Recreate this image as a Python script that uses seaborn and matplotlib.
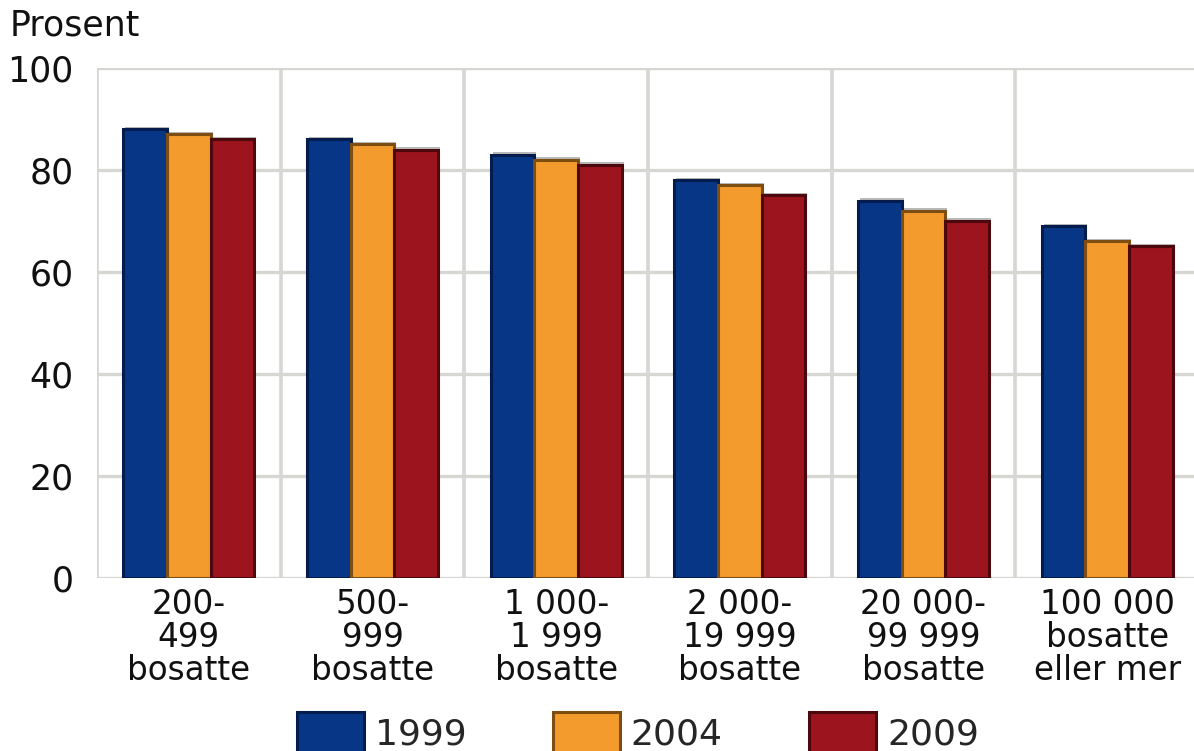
import matplotlib
matplotlib.use("Agg")
import matplotlib.pyplot as plt
import matplotlib.patheffects as pe
from matplotlib.patches import Patch
import numpy as np
import pandas as pd
import seaborn as sns

categories = ["200-\n499\nbosatte", "500-\n999\nbosatte", "1 000-\n1 999\nbosatte",
              "2 000-\n19 999\nbosatte", "20 000-\n99 999\nbosatte", "100 000\nbosatte\neller mer"]
years = ["1999", "2004", "2009"]
values_1999 = [88, 86, 83, 78, 74, 69]
values_2004 = [87, 85, 82, 77, 72, 66]
values_2009 = [86, 84, 81, 75, 70, 65]
yticks = [0, 20, 40, 60, 80, 100]

face_colors = ["#073686", "#f39c2d", "#9c141d"]
edge_colors = ["#031c4d", "#7d4d12", "#4c080d"]

df = pd.DataFrame({
    "kategori": categories * 3,
    "år": [y for y in years for _ in categories],
    "prosent": values_1999 + values_2004 + values_2009,
})

sns.set_theme(style="white")
plt.rcParams["font.family"] = ["DejaVu Sans"]

W, H = 1194, 751
fig = plt.figure(figsize=(W / 100, H / 100), dpi=100)
ax = fig.add_axes([97 / W, (H - 578) / H, 1102 / W, (578 - 68) / H])

sns.barplot(data=df, x="kategori", y="prosent", hue="år", hue_order=years,
            palette=face_colors, width=0.713, saturation=1, ax=ax, legend=False,
            zorder=3)

shadow = [pe.SimplePatchShadow(offset=(1.5, 1.8), shadow_rgbFace="#808080", alpha=0.55),
          pe.Normal()]
for cont, ec in zip(ax.containers, edge_colors):
    for bar in cont:
        bar.set_edgecolor(ec)
        bar.set_linewidth(2.2)
        bar.set_path_effects(shadow)

ax.set_xlim(-0.5, len(categories) - 0.5)
ax.set_ylim(0, 100)
ax.set_yticks(yticks)
ax.set_xticks(np.arange(len(categories)))
ax.set_xticklabels(categories, fontsize=23.5, linespacing=1.0, color="#111111")
ax.set_xticks(np.arange(-0.5, len(categories), 1.0), minor=True)
ax.tick_params(axis="x", which="both", length=0, pad=7)
ax.tick_params(axis="y", length=0, pad=17, labelsize=25, labelcolor="#111111")

ax.grid(False)
ax.yaxis.grid(True, color="#d6d6d2", linewidth=2.4, zorder=0)
ax.xaxis.grid(True, which="minor", color="#d6d6d2", linewidth=2.6, zorder=0)
ax.set_axisbelow(True)
for s in ax.spines.values():
    s.set_visible(False)
ax.set_xlabel("")
ax.set_ylabel("")

fig.text(10 / W, 1 - 8 / H, "Prosent", fontsize=25, ha="left", va="top", color="#111111")

handles = [Patch(facecolor=fc, edgecolor=ec, linewidth=2.2, label=y)
           for fc, ec, y in zip(face_colors, edge_colors, years)]
fig.legend(handles=handles, loc="upper center", bbox_to_anchor=(638 / W, 1 - 712 / H),
           ncol=3, frameon=False, fontsize=26, handlelength=1.85, handleheight=1.4,
           handletextpad=0.3, columnspacing=2.4, borderaxespad=0, borderpad=0)

fig.savefig("out.png", dpi=100)
